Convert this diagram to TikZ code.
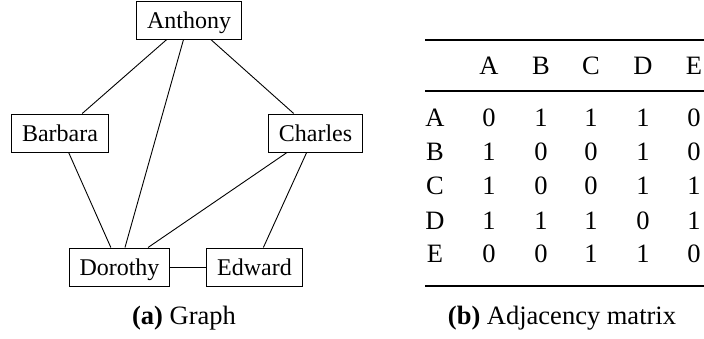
\documentclass[tikz,border=0pt]{standalone}
\usepackage{fontspec}
\setmainfont{Liberation Serif}
\begin{document}
\begin{tikzpicture}[x=1pt,y=-1pt,
  person/.style={draw, line width=1pt, font=\fontsize{24}{28}\selectfont,
    inner xsep=10.5pt, inner ysep=8pt, text height=19pt, text depth=3pt},
  link/.style={line width=0.9pt},
  cell/.style={font=\fontsize{26.5}{30}\selectfont, anchor=base, inner sep=0pt},
  heavyrule/.style={line width=2.4pt},
  lightrule/.style={line width=1.5pt},
  caption/.style={font=\fontsize{26.5}{30}\selectfont, anchor=base, inner sep=0pt},
]
\useasboundingbox (0,0) rectangle (704,338);

% --- graph ---
\node[person] (anthony) at (189,20)    {Anthony};
\node[person] (barbara) at (60,133)    {Barbara};
\node[person] (charles) at (315.5,133) {Charles};
\node[person] (dorothy) at (119.5,267) {Dorothy};
\node[person] (edward)  at (254.5,267) {Edward};

\draw[link] (anthony) -- (barbara);
\draw[link] (anthony) -- (dorothy);
\draw[link] (anthony) -- (charles);
\draw[link] (barbara) -- (dorothy);
\draw[link] (charles) -- (dorothy);
\draw[link] (charles) -- (edward);
\draw[link] (dorothy) -- (edward);

\node[caption] (capa) at (184,324) {\textbf{(a)} Graph};

% --- adjacency matrix ---
\draw[heavyrule] (425,40) -- (704,40);
\draw[lightrule] (425,91) -- (704,91);
\draw[heavyrule] (425,286) -- (704,286);

% column headers
\foreach \lab/\cx in {A/489,B/541,C/591,D/643,E/694}
  \node[cell] (head-\lab) at (\cx,74) {\lab};

% rows: label, baseline, entries
\foreach \lab/\ry/\vals in {A/126/{0,1,1,1,0},
                            B/160/{1,0,0,1,0},
                            C/194.5/{1,0,0,1,1},
                            D/229/{1,1,1,0,1},
                            E/262/{0,0,1,1,0}}{
  \node[cell] (row-\lab) at (435,\ry) {\lab};
  \foreach \v [count=\k] in \vals {
    \pgfmathsetmacro{\cx}{{489,541,591,643,694}[\k-1]}
    \node[cell] (cell-\lab-\k) at (\cx,\ry) {\v};
  }
}

\node[caption] (capb) at (562,324) {\textbf{(b)} Adjacency matrix};
\end{tikzpicture}
\end{document}
